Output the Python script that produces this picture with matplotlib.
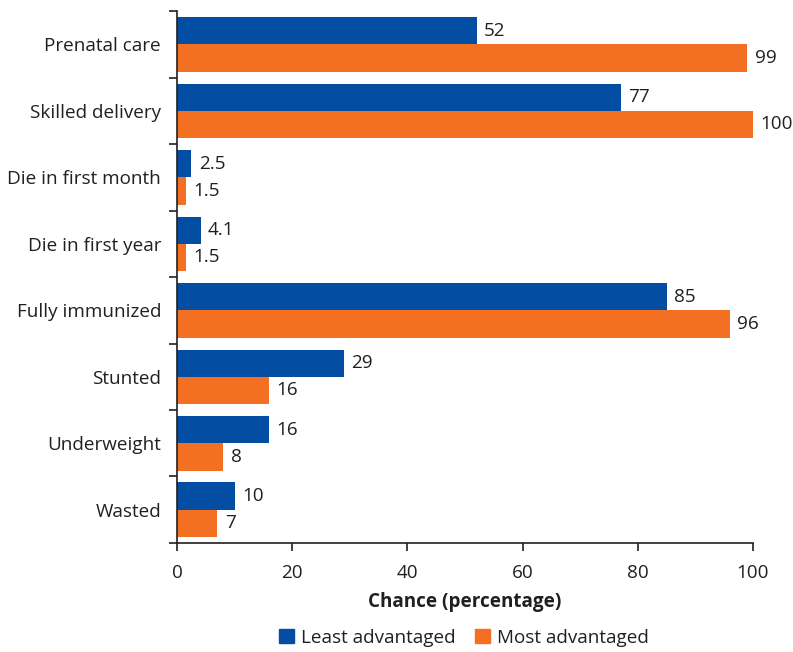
import matplotlib.pyplot as plt
import numpy as np
from matplotlib.patches import Patch

categories = ["Prenatal care", "Skilled delivery", "Die in first month",
              "Die in first year", "Fully immunized", "Stunted",
              "Underweight", "Wasted"]
least = [52, 77, 2.5, 4.1, 85, 29, 16, 10]
most = [99, 100, 1.5, 1.5, 96, 16, 8, 7]
least_labels = ["52", "77", "2.5", "4.1", "85", "29", "16", "10"]
most_labels = ["99", "100", "1.5", "1.5", "96", "16", "8", "7"]

blue = "#034ea2"
orange = "#f37022"
ink = "#231f20"

plt.rcParams["font.family"] = ["Open Sans", "DejaVu Sans"]
plt.rcParams["font.size"] = 13.6
plt.rcParams["text.color"] = ink
plt.rcParams["axes.labelcolor"] = ink
plt.rcParams["xtick.color"] = ink
plt.rcParams["ytick.color"] = ink

fig = plt.figure(figsize=(7.93, 6.52), dpi=100)
ax = fig.add_axes([0.2232, 0.1672, 0.9496 - 0.2232, 0.983 - 0.1672])

n = len(categories)
centers = n - np.arange(n) - 0.5
h = 0.41
ax.barh(centers + h / 2, least, height=h, color=blue)
ax.barh(centers - h / 2, most, height=h, color=orange)

for c, v, s in zip(centers, least, least_labels):
    ax.text(v + 1.3, c + h / 2, s, va="center", ha="left")
for c, v, s in zip(centers, most, most_labels):
    ax.text(v + 1.3, c - h / 2, s, va="center", ha="left")

ax.set_xlim(0, 100)
ax.set_ylim(0, n)
ax.set_xticks([0, 20, 40, 60, 80, 100])
ax.set_yticks(np.arange(n + 1))
ax.set_yticklabels([])
ax.set_yticks(centers, minor=True)
ax.set_yticklabels(categories, minor=True)
ax.tick_params(axis="y", which="minor", length=0, pad=11.5)
ax.tick_params(axis="y", which="major", length=6, width=1.2)
ax.tick_params(axis="x", length=6, width=1.2, pad=9)

for side in ["top", "right"]:
    ax.spines[side].set_visible(False)
for side in ["left", "bottom"]:
    ax.spines[side].set_linewidth(1.2)
    ax.spines[side].set_color(ink)

ax.set_xlabel("Chance (percentage)", fontweight="bold", labelpad=7)

handles = [Patch(color=blue, label="Least advantaged"),
           Patch(color=orange, label="Most advantaged")]
fig.legend(handles=handles, loc="center", bbox_to_anchor=(0.585, 0.022),
           ncol=2, frameon=False, handlelength=0.8, handleheight=0.8,
           handletextpad=0.4, columnspacing=1.0)

fig.savefig("out.png", dpi=100)
